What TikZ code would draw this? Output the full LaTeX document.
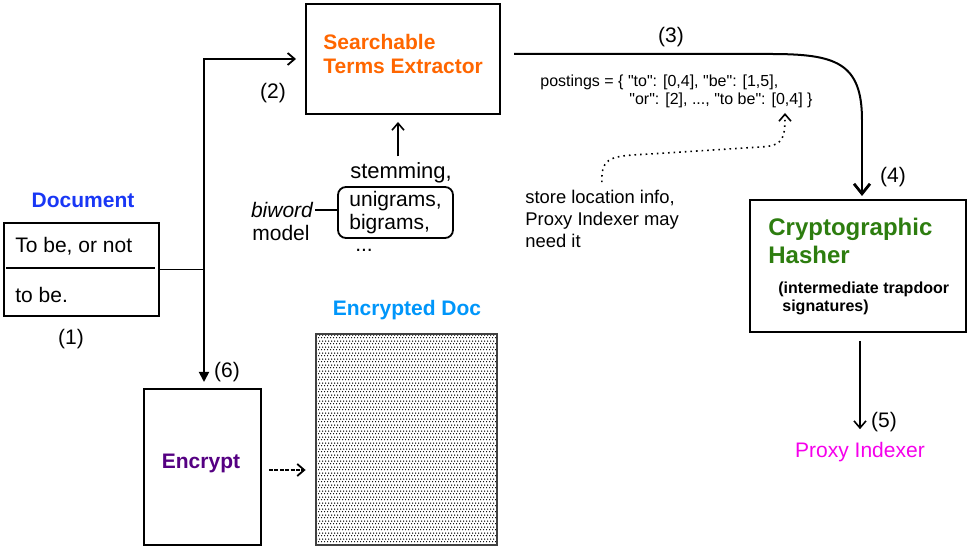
\documentclass[tikz,border=0pt]{standalone}
\usepackage{fontspec}
\setmainfont{Liberation Sans}[Ligatures=TeXOff]
\usetikzlibrary{arrows.meta,patterns.meta}
\definecolor{docblue}{RGB}{25,55,245}
\definecolor{extorange}{RGB}{255,102,0}
\definecolor{hashgreen}{RGB}{45,125,15}
\definecolor{encblue}{RGB}{0,150,250}
\definecolor{encpurple}{RGB}{85,0,130}
\definecolor{proxypink}{RGB}{245,0,235}
\tikzdeclarepattern{
  name=fine dots,
  type=uncolored,
  bounding box={(0pt,0pt) and (1.5pt,3pt)},
  tile size={(1.5pt,3pt)},
  code={
    \pgfpathcircle{\pgfpoint{0.4pt}{0.75pt}}{0.4pt}
    \pgfpathcircle{\pgfpoint{1.15pt}{2.25pt}}{0.4pt}
    \pgfusepath{fill}
  }
}
\begin{document}
\begin{tikzpicture}[x=0.5pt,y=-0.5pt,
                font=\fontsize{10.5}{12.6}\selectfont,
                box/.style={draw,line width=1pt,inner sep=0pt},
                title/.style={font=\fontsize{10.5}{12.6}\selectfont\bfseries},
                numtag/.style={inner sep=1pt},
                flow/.style={line width=0.9pt},
                vtip/.style={-{Straight Barb[length=3.5pt,width=6pt]}}]
                \useasboundingbox (0,0) rectangle (971,555);
                % document
                \node (doclabel) at (83,200) [title,text=docblue] {Document};
                \node (doc) at (81.5,269.5) [box,minimum width=77.5pt,minimum height=46.5pt] {};
                \node (line1) at (15,246) [anchor=west,inner sep=0pt] {To be, or not};
                \node (line2) at (15,295) [anchor=west,inner sep=0pt] {to be.};
                \draw[line width=0.6pt] ([xshift=1.5pt,yshift=0.75pt]doc.west) -- ([xshift=-2.5pt,yshift=0.75pt]doc.east);
                \node (tag1) at (71,339) [numtag] {(1)};
                % extractor
                \node (extractor) at (403,59) [box,minimum width=97pt,minimum height=55pt] {};
                \node (extlabel) at (323,54) [title,text=extorange,anchor=west,align=left,inner sep=0pt,
                    font=\fontsize{10.5}{12.5}\selectfont\bfseries] {Searchable\\Terms Extractor};
                \node (tag2) at (273,93) [numtag] {(2)};
                % terms
                \node (stem) at (401,173) [inner sep=1pt,font=\fontsize{11}{13}\selectfont] {stemming,};
                \node (grams) at (395.5,212.5) [draw,line width=0.9pt,rounded corners=4pt,
                    minimum width=57.5pt,minimum height=25.5pt,align=left,inner sep=0pt,
                    font=\fontsize{10.5}{11.5}\selectfont] {unigrams,\\bigrams,};
                \node (more) at (364,250) [inner sep=1pt] {...};
                \node (biword) at (282,210) [inner sep=1pt] {\itshape biword};
                \node (model) at (281,233) [inner sep=1pt] {model};
                % postings
                \node (tag3) at (671,37) [numtag] {(3)};
                \node (post1) at (540,82) [anchor=west,inner sep=0pt,font=\fontsize{8}{9}\selectfont]
                    {postings = \{ "to": [0,4], "be": [1,5],};
                \node (post2) at (629,100) [anchor=west,inner sep=0pt,font=\fontsize{8}{9}\selectfont]
                    {"or": [2], ..., "to be": [0,4] \}};
                \coordinate (postref) at (785,113);
                \node (note) at (525,219) [anchor=west,align=left,inner sep=0pt,
                    font=\fontsize{9.2}{10.8}\selectfont] {store location info,\\Proxy Indexer may\\need it};
                % hasher
                \node (hasher) at (858,266) [box,minimum width=108pt,minimum height=66pt] {};
                \node (hashtitle) at (768,241) [anchor=west,align=left,inner sep=0pt,text=hashgreen,
                    font=\fontsize{12}{14}\selectfont\bfseries] {Cryptographic\\Hasher};
                \node (hashnote) at (778,298) [anchor=west,align=left,inner sep=0pt,
                    font=\fontsize{8}{9}\selectfont\bfseries] {(intermediate trapdoor\\\hspace{2pt}signatures)};
                \node (tag4) at (893,177) [numtag] {(4)};
                \node (tag5) at (884,422) [numtag] {(5)};
                \node (proxy) at (860,452) [text=proxypink] {Proxy Indexer};
                % encryption
                \node (encrypt) at (202.5,467) [box,minimum width=58.5pt,minimum height=78pt] {};
                \node (enctitle) at (201,463) [title,text=encpurple] {Encrypt};
                \node (tag6) at (227,372) [numtag] {(6)};
                \node (enclabel) at (407,310) [title,text=encblue] {Encrypted Doc};
                \node (encdoc) at (406.5,439.5) [box,draw=black!75,line width=1.4pt,pattern=fine dots,
                    minimum width=90.5pt,minimum height=105.5pt] {};
                % connectors
                \coordinate (split) at (204,269.5);
                \coordinate (bend) at (770,54);
                \coordinate (drop) at (862,120);
                \draw[flow] (doc.east) -- (split);
                \draw[flow,vtip,shorten >=4.5pt] (split) |- (extractor.west);
                \draw[flow,-{Triangle[length=5pt,width=5pt]},shorten >=3pt] (split) -- (split |- encrypt.north);
                \draw[line width=0.8pt,vtip,shorten <=2pt,shorten >=3.5pt] ([xshift=-1.5pt]stem.north) -- ([xshift=-1.5pt]stem.north |- extractor.south);
                \draw[line width=1.1pt] (biword.east) -- (biword.east -| grams.west);
                \draw[line width=1pt] ([xshift=6.5pt,yshift=2.5pt]extractor.east) -- (bend)
                    .. controls (835,54) and (862,62) .. (drop);
                \draw[line width=1.4pt,-{Straight Barb[length=5pt,width=8pt]},shorten >=1.5pt] (drop) -- ([xshift=2pt]hasher.north);
                \draw[line width=0.8pt,dotted,vtip,shorten <=4pt] (note.north) .. controls (601,156) and (612,156) .. (650,154)
                    -- (760,147) .. controls (783,146) and (785,140) .. (postref);
                \draw[line width=0.8pt,vtip,shorten <=4pt,shorten >=3pt] ([xshift=1pt]hasher.south) -- (proxy.north);
                \draw[line width=0.9pt,dash pattern=on 2pt off 0.7pt,vtip,shorten <=3.5pt,shorten >=4.5pt]
                    ([yshift=-1.5pt]encrypt.east) -- ([yshift=-1.5pt]encrypt.east -| encdoc.west);
            \end{tikzpicture}
\end{document}
